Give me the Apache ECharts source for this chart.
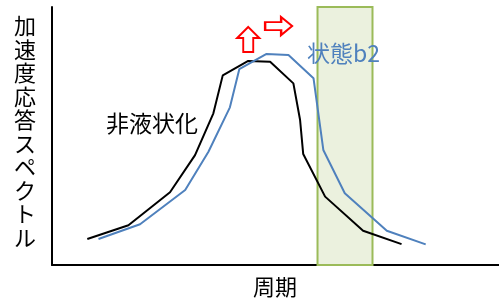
<!DOCTYPE html>
<html>
<head>
<meta charset="utf-8">
<script src="https://cdn.jsdelivr.net/npm/echarts@6/dist/echarts.min.js"></script>
<style>
  html, body { margin: 0; padding: 0; background: #fff; }
  #chart { width: 499px; height: 305px; }
</style>
</head>
<body>
<div id="chart"></div>
<script>
// period (x) and spectrum (y), 0-100 scale
const blackX = [7.9, 17.1, 26.4, 32.0, 36.1, 38.2, 43.9, 48.8, 54.0, 55.5, 56.2, 61.1, 69.6, 78.2]
const blackY = [10.1, 15.4, 28.2, 42.6, 58.8, 73.5, 79.1, 78.8, 70.4, 56.2, 43.0, 26.5, 13.3, 8.1]
const blueX = [10.4, 19.7, 29.8, 35.0, 39.8, 41.9, 48.0, 52.9, 58.5, 60.7, 65.5, 74.9, 83.6]
const blueY = [10.1, 15.8, 29.1, 43.9, 61.1, 75.9, 81.8, 81.4, 72.4, 44.6, 27.8, 13.3, 8.0]
const bandRange = [59.4, 71.7]
const upArrowAt = [43.9, 87.4]
const rightArrowAt = [50.7, 92.6]

const yTitle = '加速度応答スペクトル'
const xTitle = '周期'
const blackLabel = '非液状化'
const blueLabel = '状態b2'

const font = '"Noto Sans CJK JP", "Noto Sans", sans-serif'
const zip = (xs, ys) => xs.map((x, i) => [x, ys[i]])

const chart = echarts.init(document.getElementById('chart'))

const axisCommon = {
  type: 'value',
  min: 0,
  max: 100,
  axisLine: { show: true, lineStyle: { color: '#000', width: 2 } },
  axisTick: { show: false },
  axisLabel: { show: false },
  splitLine: { show: false }
}

const arrowStyle = { color: '#fff', borderColor: '#ff0000', borderWidth: 2 }

chart.setOption({
  animation: false,
  grid: { left: 52, right: 0, top: 7, bottom: 40 },
  xAxis: axisCommon,
  yAxis: axisCommon,
  series: [
    {
      // band behind the curves
      type: 'line',
      data: [],
      z: 1,
      silent: true,
      markArea: {
        silent: true,
        itemStyle: { color: '#EBF1DE', borderColor: '#9BBB59', borderWidth: 2 },
        data: [[{ xAxis: bandRange[0], yAxis: 0 }, { xAxis: bandRange[1], yAxis: 100 }]]
      }
    },
    {
      name: blackLabel,
      type: 'line',
      z: 3,
      data: zip(blackX, blackY),
      showSymbol: false,
      lineStyle: { color: '#000', width: 2 }
    },
    {
      name: blueLabel,
      type: 'line',
      z: 4,
      data: zip(blueX, blueY),
      showSymbol: false,
      lineStyle: { color: '#4F81BD', width: 2 },
      markPoint: {
        silent: true,
        label: { show: false },
        data: [
          {
            coord: upArrowAt,
            symbol: 'path://M11,0 L22,11 L16,11 L16,25 L6,25 L6,11 L0,11 Z',
            symbolSize: [22, 25],
            itemStyle: arrowStyle
          },
          {
            coord: rightArrowAt,
            symbol: 'path://M0,5 L16,5 L16,0 L27,9 L16,18 L16,13 L0,13 Z',
            symbolSize: [27, 18],
            itemStyle: arrowStyle
          }
        ]
      }
    }
  ],
  graphic: [
    {
      type: 'text',
      left: 14,
      top: 14,
      z: 100,
      style: {
        text: yTitle.split('').join('\n'),
        font: '22px ' + font,
        lineHeight: 23.5,
        fill: '#000',
        align: 'center',
        width: 24
      }
    },
    {
      type: 'text',
      left: 253,
      top: 276,
      z: 100,
      style: { text: xTitle, font: '22px ' + font, fill: '#000' }
    },
    {
      type: 'text',
      left: 106,
      top: 112,
      z: 100,
      style: { text: blackLabel, font: '23px ' + font, fill: '#000' }
    },
    {
      type: 'text',
      left: 307,
      top: 42,
      z: 100,
      style: { text: blueLabel, font: '23px ' + font, fill: '#4F81BD' }
    }
  ]
})
</script>
</body>
</html>
